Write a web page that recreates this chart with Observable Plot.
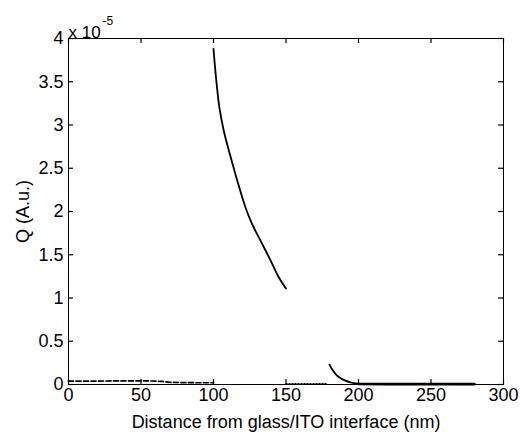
<!DOCTYPE html>
<html>
<head>
<meta charset="utf-8">
<script src="https://cdn.jsdelivr.net/npm/d3@7"></script>
<script src="https://cdn.jsdelivr.net/npm/@observablehq/plot@0.6"></script>
<style>
  body { margin: 0; background: #fff; }
  #chart svg { display: block; }
</style>
</head>
<body>
<div id="chart"></div>
<script>
// Series values (Q in units of 1e-5)
const solidX = [100, 101.5, 104, 107, 110.5, 114, 116.5, 122, 126.5, 132.5, 139.5, 145, 150];
const solidQ = [3.88, 3.59, 3.21, 2.94, 2.71, 2.50, 2.35, 2.05, 1.86, 1.66, 1.43, 1.24, 1.11];

const dashX = [0, 20, 40, 55, 65, 70, 80, 90, 100];
const dashQ = [0.04, 0.04, 0.042, 0.042, 0.035, 0.025, 0.022, 0.02, 0.02];

const dotX = [150, 160, 170, 178];
const dotQ = [0.008, 0.008, 0.008, 0.008];

const decayX = [180, 182, 185, 188, 191, 194.5, 197, 200];
const decayQ = [0.23, 0.17, 0.105, 0.07, 0.045, 0.025, 0.015, 0.01];

const flatX = [200, 220, 240, 260, 280];
const flatQ = [0.005, 0.004, 0.004, 0.004, 0.004];

const xTicks = [0, 50, 100, 150, 200, 250, 300];
const yTicks = [0, 0.5, 1, 1.5, 2, 2.5, 3, 3.5, 4];

const toRows = (xs, qs) => xs.map((x, i) => ({x, q: qs[i]}));
const solid = toRows(solidX, solidQ);
const dashed = toRows(dashX, dashQ);
const dotted = toRows(dotX, dotQ);
const decay = toRows(decayX, decayQ);
const flat = toRows(flatX, flatQ);

const font = "Liberation Sans, Arial, sans-serif";
const W = 520, H = 432, ML = 68, MR = 17, MT = 38, MB = 48;
const PW = W - ML - MR, PH = H - MT - MB;
const T = 5; // inward tick length

const chart = Plot.plot({
  width: W,
  height: H,
  marginLeft: ML,
  marginRight: MR,
  marginTop: MT,
  marginBottom: MB,
  style: {fontFamily: font, fontSize: "17px", color: "#000", background: "#fff"},
  x: {domain: [0, 300]},
  y: {domain: [0, 4]},
  marks: [
    Plot.frame({stroke: "#000", strokeWidth: 1}),
    // inward ticks on all sides
    Plot.ruleX(xTicks, {x: d => d, insetTop: PH - T, stroke: "#000", strokeWidth: 1.2}),
    Plot.ruleX(xTicks, {x: d => d, insetBottom: PH - T, stroke: "#000", strokeWidth: 1.2}),
    Plot.ruleY(yTicks, {y: d => d, insetRight: PW - T, stroke: "#000", strokeWidth: 1.2}),
    Plot.ruleY(yTicks, {y: d => d, insetLeft: PW - T, stroke: "#000", strokeWidth: 1.2}),
    // tick labels + axis titles
    Plot.axisX(xTicks, {anchor: "bottom", tickSize: 0, tickPadding: 4, fontSize: 18,
      label: "Distance from glass/ITO interface (nm)", labelAnchor: "center", labelArrow: "none", labelOffset: 43}),
    Plot.axisY(yTicks, {anchor: "left", tickSize: 0, tickPadding: 5, fontSize: 18,
      tickFormat: d => String(d),
      label: "Q (A.u.)", labelAnchor: "center", labelArrow: "none", labelOffset: 52}),
    // exponent annotation
    Plot.text([0], {frameAnchor: "top-left", text: () => "x 10", dx: 0, dy: -13, fontSize: 17, textAnchor: "start", fill: "#000"}),
    Plot.text([0], {frameAnchor: "top-left", text: () => "-5", dx: 34, dy: -22, fontSize: 12, textAnchor: "start", fill: "#000"}),
    // data
    Plot.line(dashed, {x: "x", y: "q", stroke: "#000", strokeWidth: 1.7, strokeDasharray: "5,2.5"}),
    Plot.line(dotted, {x: "x", y: "q", stroke: "#000", strokeWidth: 1.5, strokeDasharray: "1,2"}),
    Plot.line(solid, {x: "x", y: "q", stroke: "#000", strokeWidth: 1.8, curve: "catmull-rom"}),
    Plot.line(decay, {x: "x", y: "q", stroke: "#000", strokeWidth: 1.8, curve: "catmull-rom"}),
    Plot.line(flat, {x: "x", y: "q", stroke: "#000", strokeWidth: 2.6})
  ]
});

document.getElementById("chart").appendChild(chart);
</script>
</body>
</html>
